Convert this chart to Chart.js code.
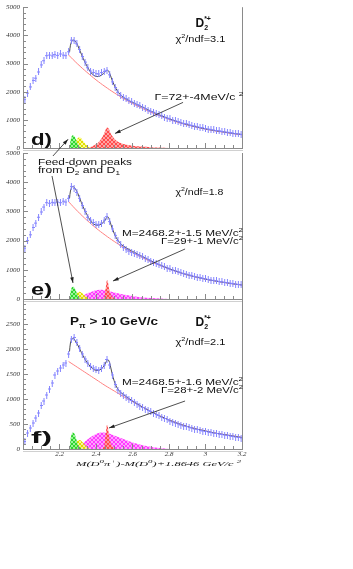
<!DOCTYPE html>
<html>
<head>
<meta charset="utf-8">
<script src="https://cdn.jsdelivr.net/npm/chart.js@4.4.0/dist/chart.umd.min.js"></script>
<style>
body{margin:0;background:#fff;width:353px;height:569px;overflow:hidden;position:relative}
canvas{position:absolute;left:0;top:0}
</style>
</head>
<body>
<canvas id="panelD" width="353" height="569"></canvas>
<canvas id="panelE" width="353" height="569"></canvas>
<canvas id="panelF" width="353" height="569"></canvas>
<script>
// mass bins (GeV/c^2)
const massBins = [2.010,2.025,2.040,2.055,2.070,2.085,2.100,2.115,2.130,2.145,2.160,2.175,2.190,2.205,2.220,2.235,2.250,2.265,2.280,2.295,
2.310,2.325,2.340,2.355,2.370,2.385,2.400,2.415,2.430,2.445,2.460,2.475,2.490,2.505,2.520,2.535,2.550,2.565,2.580,2.595,
2.610,2.625,2.640,2.655,2.670,2.685,2.700,2.715,2.730,2.745,2.760,2.775,2.790,2.805,2.820,2.835,2.850,2.865,2.880,2.895,
2.910,2.925,2.940,2.955,2.970,2.985,3.000,3.015,3.030,3.045,3.060,3.075,3.090,3.105,3.120,3.135,3.150,3.165,3.180,3.195];

const countsD = [1720,1950,2170,2400,2480,2700,2950,3100,3280,3300,3270,3320,3290,3340,3300,3280,3420,3830,3800,3700,
3500,3250,3050,2850,2730,2680,2640,2630,2680,2720,2760,2600,2350,2150,1980,1870,1800,1750,1690,1640,
1590,1540,1500,1450,1400,1340,1300,1270,1210,1180,1140,1090,1060,1040,990,960,940,900,870,860,
820,800,780,750,730,720,690,670,660,640,620,610,590,570,560,550,530,510,500,480];

const countsE = [1740,2000,2200,2450,2600,2800,2980,3150,3300,3280,3310,3290,3320,3300,3350,3320,3450,3850,3780,3650,
3450,3200,3000,2800,2700,2620,2560,2540,2600,2700,2820,2650,2400,2180,2000,1850,1760,1690,1640,1600,
1560,1520,1480,1440,1400,1350,1300,1260,1220,1180,1140,1100,1060,1030,990,960,930,900,870,850,
820,800,770,750,730,710,690,670,650,640,620,600,590,570,560,540,530,510,500,480];

const countsF = [150,320,420,520,620,720,870,960,1080,1200,1320,1480,1560,1620,1680,1720,1900,2200,2230,2130,
2020,1900,1800,1720,1650,1620,1590,1580,1620,1680,1790,1680,1480,1290,1180,1120,1080,1040,1000,970,
940,900,860,830,800,770,750,720,690,670,640,610,590,560,540,520,500,480,460,450,
430,420,400,390,370,360,350,340,330,320,310,300,290,280,270,260,250,240,230,220];

// background and total fit curves
const bgX = [2.25,2.30,2.35,2.40,2.45,2.50,2.55,2.60,2.65,2.70,2.75,2.80,2.85,2.90,2.95,3.00,3.05,3.10,3.15,3.20];
const bgD = [3300,2980,2690,2420,2180,1960,1760,1580,1420,1270,1140,1020,910,820,740,670,610,560,510,470];
const bgE = [3330,3000,2700,2430,2190,1970,1770,1590,1430,1280,1150,1030,920,830,750,680,620,570,520,480];
const bgF = [1750,1630,1510,1390,1270,1160,1050,950,850,750,660,580,510,450,400,360,320,290,260,230];

const fitX = [2.255,2.26,2.27,2.28,2.29,2.30,2.32,2.34,2.36,2.38,2.40,2.42,2.44,2.455,2.465,2.475,2.49,2.51,2.53,2.55,
2.60,2.65,2.70,2.75,2.80,2.85,2.90,2.95,3.00,3.05,3.10,3.15,3.20];
const fitD = [3400,3650,3820,3830,3760,3640,3330,3040,2800,2620,2540,2550,2640,2730,2760,2650,2380,2100,1920,1800,
1620,1470,1310,1170,1040,930,830,750,680,620,570,520,480];
const fitE = [3450,3700,3850,3830,3740,3620,3300,3010,2780,2600,2530,2540,2620,2760,2820,2680,2400,2110,1930,1810,
1630,1470,1310,1170,1040,930,830,750,680,620,570,520,480];
const fitF = [1950,2120,2210,2200,2140,2080,1930,1790,1690,1610,1570,1580,1640,1740,1790,1720,1480,1260,1150,1090,
960,850,750,660,580,510,450,400,360,320,290,260,230];

// feed-down and signal peaks
const greenX = [2.255,2.26,2.265,2.27,2.275,2.28,2.285,2.29,2.295,2.30,2.31,2.32];
const greenD = [0,250,380,440,450,430,380,300,220,150,60,0];
const greenE = [0,230,360,410,420,400,350,280,200,130,50,0];
const greenF = [0,180,280,320,330,315,280,220,160,100,40,0];

const yellowX = [2.27,2.28,2.29,2.30,2.31,2.32,2.33,2.34,2.35,2.36,2.37];
const yellowD = [0,120,250,350,380,340,250,160,90,40,0];
const yellowE = [0,80,170,230,250,220,160,100,50,20,0];
const yellowF = [0,60,120,170,180,160,120,80,40,15,0];

const magentaX = [2.28,2.30,2.32,2.34,2.36,2.38,2.40,2.42,2.44,2.46,2.48,2.50,2.55,2.60,2.65,2.70,2.75,2.80];
const magentaE = [0,40,90,150,210,260,300,320,310,290,260,220,150,100,60,35,15,0];
const magentaF = [0,40,90,150,210,260,300,325,330,320,300,270,200,130,80,45,20,0];

const redWideX = [2.36,2.38,2.40,2.42,2.44,2.45,2.46,2.47,2.48,2.50,2.52,2.55,2.60,2.65,2.70,2.75,2.80];
const redWideD = [0,60,130,250,450,600,730,680,520,330,220,140,80,50,30,15,0];
const redNarrowX = [2.435,2.445,2.45,2.455,2.46,2.465,2.47,2.475,2.485,2.495,2.505];
const redNarrowE = [0,80,250,450,640,600,400,250,110,40,0];
const redNarrowF = [0,70,200,350,480,450,300,180,80,30,0];

const xTicks = [2.2,2.4,2.6,2.8,3.0,3.2];

function pts(xs, ys){ return xs.map((x,i)=>({x:x, y:ys[i]})); }

function hatch(canvasId, base, line){
  const c = document.createElement('canvas'); c.width = 4; c.height = 4;
  const g = c.getContext('2d');
  g.fillStyle = base; g.fillRect(0,0,4,4);
  g.strokeStyle = line; g.lineWidth = 1;
  g.beginPath(); g.moveTo(0,4); g.lineTo(4,0); g.moveTo(0,0); g.lineTo(4,4); g.stroke();
  return document.getElementById(canvasId).getContext('2d').createPattern(c,'repeat');
}

const crossMark = (function(){
  const c = document.createElement('canvas'); c.width = 3; c.height = 7;
  const g = c.getContext('2d');
  g.fillStyle = '#8585ff';
  g.fillRect(1,0,1,7); g.fillRect(0,3,3,1);
  return c;
})();

function peak(xs, ys, fill){
  return {data:pts(xs,ys), borderColor:'rgba(0,0,0,0)', borderWidth:0, backgroundColor:fill,
          fill:'origin', pointRadius:0, cubicInterpolationMode:'monotone'};
}

const charts = {};

const framePlugin = {
  id:'frame',
  afterDraw(chart){
    const {ctx, chartArea:a, scales:{x,y}} = chart;
    ctx.save();
    ctx.strokeStyle = '#8a8a8a'; ctx.lineWidth = 1;
    ctx.beginPath();
    ctx.moveTo(a.left+0.5, a.top); ctx.lineTo(a.left+0.5, a.bottom);
    ctx.moveTo(a.right+0.5, a.top); ctx.lineTo(a.right+0.5, a.bottom);
    ctx.moveTo(a.left, a.bottom+0.5); ctx.lineTo(a.right+1, a.bottom+0.5);
    ctx.stroke();
    ctx.strokeStyle = '#d0d0d0';
    ctx.beginPath(); ctx.moveTo(a.left, a.bottom+2.5); ctx.lineTo(a.right+1, a.bottom+2.5); ctx.stroke();
    ctx.strokeStyle = '#8a8a8a';
    ctx.beginPath();
    for (let v = 2.0; v <= 3.2001; v += 0.05) {
      const px = Math.round(x.getPixelForValue(v)) + 0.5;
      const major = Math.abs(v*5 - Math.round(v*5)) < 1e-6;
      ctx.moveTo(px, a.bottom); ctx.lineTo(px, a.bottom - (major ? 5 : 3));
    }
    const step = chart.options.scales.y.ticks.stepSize / 5;
    for (let v = 0; v <= y.max + 1; v += step) {
      const py = Math.round(y.getPixelForValue(v)) + 0.5;
      const major = Math.abs(v / (step*5) - Math.round(v/(step*5))) < 1e-6;
      ctx.moveTo(a.left, py); ctx.lineTo(a.left + (major ? 5 : 3), py);
    }
    ctx.stroke();
    ctx.restore();
  }
};

// annotation texts and arrows, in each panel's data coordinates
const notes = [
  {panel:'d', x:2.945, y:4280, parts:[{t:'D',f:'bold 12px'},{t:'2',f:'bold 7px',dy:3},{t:'*+',f:'bold 7px',dy:-6,stack:true}]},
  {panel:'d', x:2.835, y:3760, w:50, parts:[{t:'χ',f:'9px'},{t:'2',f:'6px',dy:-4},{t:'/ndf=3.1',f:'9px'}]},
  {panel:'d', x:2.72, y:1720, w:89, parts:[{t:'Γ=72+-4MeV/c ',f:'9px'},{t:'2',f:'6px',dy:-4}]},
  {panel:'d', x:2.044, y:100, w:21, parts:[{t:'d)',f:'bold 17px'}]},
  {panel:'e', x:2.835, y:3550, w:48, parts:[{t:'χ',f:'9px'},{t:'2',f:'6px',dy:-4},{t:'/ndf=1.8',f:'9px'}]},
  {panel:'e', x:3.205, y:2158, w:121, right:true, parts:[{t:'M=2468.2+-1.5 MeV/c',f:'9px'},{t:'2',f:'6px',dy:-4}]},
  {panel:'e', x:3.205, y:1884, w:82, right:true, parts:[{t:'Γ=29+-1 MeV/c',f:'9px'},{t:'2',f:'6px',dy:-4}]},
  {panel:'e', x:2.044, y:137, w:21, parts:[{t:'e)',f:'bold 17px'}]},
  {panel:'e', x:2.082, y:4589, w:94, parts:[{t:'Feed-down peaks',f:'9px'}]},
  {panel:'e', x:2.082, y:4315, w:82, parts:[{t:'from D',f:'9px'},{t:'2',f:'6px',dy:2},{t:'*',f:'6px',dy:-4,stack:true},{t:' and D',f:'9px'},{t:'1',f:'6px',dy:2}]},
  {panel:'f', x:2.258, y:2480, w:88, parts:[{t:'P',f:'bold 11px'},{t:'π',f:'bold 7px',dy:3},{t:' > 10 GeV/c',f:'bold 11px'}]},
  {panel:'f', x:2.945, y:2460, parts:[{t:'D',f:'bold 12px'},{t:'2',f:'bold 7px',dy:3},{t:'*+',f:'bold 7px',dy:-6,stack:true}]},
  {panel:'f', x:2.835, y:2080, w:50, parts:[{t:'χ',f:'9px'},{t:'2',f:'6px',dy:-4},{t:'/ndf=2.1',f:'9px'}]},
  {panel:'f', x:3.205, y:1280, w:121, right:true, parts:[{t:'M=2468.5+-1.6 MeV/c',f:'9px'},{t:'2',f:'6px',dy:-4}]},
  {panel:'f', x:3.205, y:1120, w:82, right:true, parts:[{t:'Γ=28+-2 MeV/c',f:'9px'},{t:'2',f:'6px',dy:-4}]},
  {panel:'f', x:2.044, y:120, w:21, parts:[{t:'f)',f:'bold 17px'}]},
  {panel:'f', x:3.195, y:-340, w:165, right:true, serif:true,
   parts:[{t:'M(D',f:'italic 7px'},{t:'0',f:'italic 5px',dy:-3},{t:'π',f:'italic 7px'},{t:'+',f:'italic 5px',dy:-3},
          {t:')-M(D',f:'italic 7px'},{t:'0',f:'italic 5px',dy:-3},{t:')+1.8646 GeV/c ',f:'italic 7px'},{t:'2',f:'italic 5px',dy:-3}]}
];
const arrows = [
  {from:['d',2.877,1620], to:['d',2.504,517]},
  {from:['e',2.888,1712], to:['e',2.493,616]},
  {from:['e',2.164,4897], to:['d',2.247,310]},
  {from:['e',2.159,4212], to:['e',2.274,548]},
  {from:['f',2.888,960], to:['f',2.471,420]}
];

function toPx(self, panel, xv, yv){
  const c = panel === 'f' ? self : charts[panel];
  return [c.scales.x.getPixelForValue(xv), c.scales.y.getPixelForValue(yv)];
}

const notesPlugin = {
  id:'notes',
  afterDraw(chart){
    const ctx = chart.ctx;
    ctx.save();
    ctx.fillStyle = '#111';
    ctx.textBaseline = 'alphabetic';
    for (const n of notes) {
      const fam = n.serif ? ' "Liberation Serif"' : ' "Liberation Sans", Arial, sans-serif';
      let w = 0, last = 0;
      const placed = [];
      for (const p of n.parts) {
        ctx.font = p.f + fam;
        const pw = ctx.measureText(p.t).width;
        if (p.stack) { placed.push({p, x:w-last}); w = w - last + Math.max(last,pw); last = Math.max(last,pw); }
        else { placed.push({p, x:w}); w += pw; last = pw; }
      }
      const sx = n.w ? n.w / w : 1;
      const [px, py] = toPx(chart, n.panel, n.x, n.y);
      const left = n.right ? px - w*sx : px;
      ctx.save();
      ctx.translate(left, py);
      ctx.scale(sx, 1);
      for (const q of placed) {
        ctx.font = q.p.f + fam;
        ctx.fillText(q.p.t, q.x, q.p.dy || 0);
      }
      ctx.restore();
    }
    ctx.strokeStyle = '#222'; ctx.fillStyle = '#222'; ctx.lineWidth = 0.8;
    for (const ar of arrows) {
      const [x1,y1] = toPx(chart, ...ar.from);
      const [x2,y2] = toPx(chart, ...ar.to);
      const ang = Math.atan2(y2-y1, x2-x1);
      ctx.beginPath(); ctx.moveTo(x1,y1); ctx.lineTo(x2,y2); ctx.stroke();
      ctx.beginPath();
      ctx.moveTo(x2,y2);
      ctx.lineTo(x2 - 6*Math.cos(ang-0.3), y2 - 6*Math.sin(ang-0.3));
      ctx.lineTo(x2 - 6*Math.cos(ang+0.3), y2 - 6*Math.sin(ang+0.3));
      ctx.closePath(); ctx.fill();
    }
    ctx.restore();
  }
};

function makePanel(key, canvasId, p){
  const datasets = [
    {data:pts(massBins, p.counts), showLine:false, pointStyle:crossMark, pointRadius:3, borderWidth:0},
    {data:pts(fitX, p.fit), borderColor:'#4a4a4a', borderWidth:1, pointRadius:0, tension:0.3, fill:false},
    {data:pts(bgX, p.bg), borderColor:'#ff8080', borderWidth:1, pointRadius:0, tension:0.4, fill:false},
    peak(greenX, p.green, hatch(canvasId,'rgba(120,240,120,0.75)','#2fd42f')),
    peak(yellowX, p.yellow, hatch(canvasId,'rgba(250,250,120,0.75)','#e0e000'))
  ];
  if (p.magenta) datasets.push(peak(magentaX, p.magenta, hatch(canvasId,'rgba(255,130,255,0.75)','#ff3cff')));
  datasets.splice(3, 0, peak(p.redX, p.red, hatch(canvasId,'rgba(255,140,140,0.8)','#ff4c4c')));

  charts[key] = new Chart(document.getElementById(canvasId), {
    type:'line',
    data:{datasets:datasets},
    options:{
      responsive:false, animation:false, events:[],
      layout:{padding:{left:0, right:111, top:p.top, bottom:p.bottom}},
      plugins:{legend:{display:false}, tooltip:{enabled:false}},
      scales:{
        x:{type:'linear', min:2.0, max:3.2, display:p.showX,
           afterFit:s=>{ s.height = p.showX ? 14 : 0; },
           grid:{display:false, drawTicks:false}, border:{display:false},
           afterBuildTicks:s=>{ s.ticks = xTicks.map(v=>({value:v})); },
           ticks:{autoSkip:false, maxRotation:0, padding:1, color:'#333',
                  font:{family:'"Liberation Serif"', style:'italic', size:7},
                  callback:v=>String(Math.round(v*10)/10)}},
        y:{min:0, max:p.yMax,
           afterFit:s=>{ s.width = 23; },
           grid:{display:false, drawTicks:false}, border:{display:false},
           ticks:{stepSize:p.step, padding:3, color:'#333',
                  font:{family:'"Liberation Serif"', style:'italic', size:7},
                  callback:v=>(v > p.yLabelMax ? '' : String(v))}}
      }
    },
    plugins: key === 'f' ? [framePlugin, notesPlugin] : [framePlugin]
  });
}

makePanel('d','panelD',{counts:countsD, fit:fitD, bg:bgD, green:greenD, yellow:yellowD,
  redX:redWideX, red:redWideD, yMax:5000, step:1000, yLabelMax:5000, top:3, bottom:421, showX:false});
makePanel('e','panelE',{counts:countsE, fit:fitE, bg:bgE, green:greenE, yellow:yellowE, magenta:magentaE,
  redX:redNarrowX, red:redNarrowE, yMax:5000, step:1000, yLabelMax:5000, top:153, bottom:270, showX:false});
makePanel('f','panelF',{counts:countsF, fit:fitF, bg:bgF, green:greenF, yellow:yellowF, magenta:magentaF,
  redX:redNarrowX, red:redNarrowF, yMax:3000, step:500, yLabelMax:2500, top:299, bottom:106, showX:true});
</script>
</body>
</html>
